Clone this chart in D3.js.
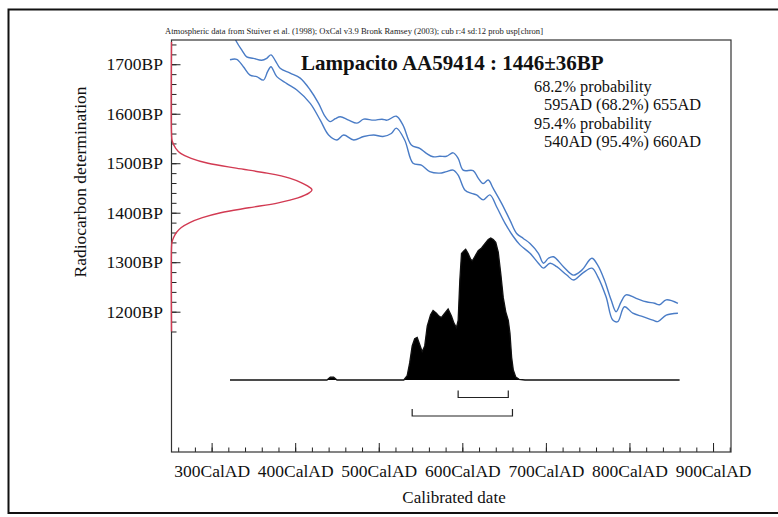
<!DOCTYPE html>
<html>
<head>
<meta charset="utf-8">
<script src="https://cdn.jsdelivr.net/npm/d3@7"></script>
<style>
  body { margin: 0; background: #fff; }
  svg { display: block; }
</style>
</head>
<body>
<div id="chart"></div>
<script>
// ---- data ----
// calibration curve, upper and lower 1 sigma lines (AD, BP)
var curveUpperAD = [322, 330, 336, 342, 350, 360, 366, 371, 376, 382, 394, 406, 418, 428, 436, 442, 448, 454, 464, 474, 482, 494, 504, 510, 521, 529, 539, 549, 557, 565, 573, 581, 589, 595, 601, 613, 619, 625, 631, 637, 647, 657, 665, 673, 681, 691, 697, 703, 709, 721, 733, 743, 755, 762, 770, 778, 784, 790, 796, 808, 820, 830, 836, 844, 858];
var curveUpperBP = [1775, 1745, 1729, 1715, 1712, 1708, 1712, 1719, 1708, 1692, 1682, 1672, 1648, 1621, 1594, 1584, 1590, 1594, 1587, 1581, 1589, 1587, 1589, 1587, 1595, 1577, 1537, 1530, 1520, 1513, 1514, 1514, 1521, 1510, 1486, 1485, 1470, 1459, 1466, 1449, 1419, 1385, 1358, 1348, 1338, 1318, 1298, 1308, 1311, 1291, 1274, 1284, 1308, 1294, 1264, 1224, 1200, 1220, 1234, 1227, 1220, 1217, 1214, 1224, 1217];
var curveLowerAD = [322, 330, 338, 346, 354, 362, 367, 371, 378, 390, 402, 418, 430, 440, 450, 458, 470, 482, 494, 505, 515, 521, 531, 541, 551, 561, 573, 581, 589, 595, 603, 611, 617, 625, 633, 641, 651, 661, 669, 681, 691, 697, 705, 713, 725, 733, 744, 755, 762, 772, 780, 786, 794, 804, 816, 828, 834, 844, 858];
var curveLowerBP = [1709, 1710, 1695, 1678, 1675, 1668, 1685, 1695, 1675, 1661, 1648, 1621, 1587, 1557, 1547, 1557, 1547, 1554, 1557, 1554, 1560, 1571, 1547, 1500, 1496, 1483, 1480, 1483, 1486, 1476, 1446, 1439, 1436, 1426, 1436, 1412, 1379, 1352, 1335, 1318, 1298, 1288, 1298, 1291, 1274, 1264, 1278, 1288, 1271, 1230, 1183, 1180, 1210, 1197, 1190, 1183, 1180, 1193, 1197];

// radiocarbon date 1446±36BP, relative probability along the BP axis
var dateBP = [1745, 1560, 1545, 1530, 1520, 1510, 1500, 1490, 1480, 1470, 1460, 1450, 1446, 1440, 1430, 1420, 1410, 1400, 1390, 1380, 1370, 1360, 1350, 1340, 1330, 1160];
var dateProb = [0, 0, 0.005, 0.03, 0.065, 0.14, 0.26, 0.46, 0.68, 0.84, 0.93, 0.99, 1.0, 0.98, 0.90, 0.76, 0.55, 0.35, 0.22, 0.13, 0.07, 0.035, 0.015, 0.003, 0, 0];

// calibrated distribution (AD, relative probability)
var calAD = [322, 438, 442, 446, 450, 530, 534, 537, 540, 543, 546, 549, 552, 555, 558, 562, 565, 569, 572, 575, 579, 583, 587, 590, 593, 595, 597, 599, 602, 604, 607, 610, 612, 615, 619, 623, 627, 631, 634, 637, 640, 643, 646, 649, 652, 655, 657, 659, 661, 664, 668, 675, 860];
var calProb = [0, 0, 0.02, 0.02, 0, 0, 0.03, 0.12, 0.24, 0.29, 0.30, 0.25, 0.20, 0.24, 0.38, 0.46, 0.49, 0.47, 0.45, 0.44, 0.47, 0.50, 0.45, 0.40, 0.37, 0.42, 0.70, 0.89, 0.91, 0.92, 0.89, 0.85, 0.84, 0.87, 0.91, 0.93, 0.96, 0.99, 1.0, 0.99, 0.97, 0.90, 0.75, 0.58, 0.48, 0.42, 0.33, 0.16, 0.07, 0.02, 0.005, 0, 0];

// ranges
var rangeLabels = ["68.2%", "95.4%"];
var rangeFrom = [595, 540];
var rangeTo = [655, 660];

// ticks
var xMajorTicks = [300, 400, 500, 600, 700, 800, 900];
var xMinorTicks = d3.range(260, 921, 20);
var yMajorTicks = [1200, 1300, 1400, 1500, 1600, 1700];
var yMinorTicks = d3.range(1160, 1741, 20);

var titleText = "Lampacito AA59414 : 1446\u00b136BP";
var creditText = "Atmospheric data from Stuiver et al. (1998); OxCal v3.9 Bronk Ramsey (2003); cub r:4 sd:12 prob usp[chron]";

// ---- layout ----
var svgWidth = 778;
var svgHeight = 517;

var margin = {
  top: 40,
  right: 47,
  bottom: 65,
  left: 171.5
};

var width = svgWidth - margin.left - margin.right;
var height = svgHeight - margin.top - margin.bottom;
var serif = "'Liberation Serif', 'Times New Roman', serif";

var svg = d3.select("#chart")
  .append("svg")
  .attr("width", svgWidth)
  .attr("height", svgHeight)
  .style("background", "#fff");

// outer page frame
svg.append("path")
  .attr("d", "M778,9.5 L8.5,9.5 L8.5,513 L778,513")
  .attr("fill", "none")
  .attr("stroke", "#111")
  .attr("stroke-width", 2);

var chartGroup = svg.append("g")
  .attr("transform", `translate(${margin.left}, ${margin.top})`);

// scales
var xScale = d3.scaleLinear()
  .domain([252, 921.5])
  .range([0, width]);

var yScale = d3.scaleLinear()
  .domain([916.5, 1749])
  .range([height, 0]);

var dateScale = d3.scaleLinear()
  .domain([0, 1])
  .range([0, 140.5]);

var calScale = d3.scaleLinear()
  .domain([0, 1])
  .range([340, 198]);

chartGroup.append("clipPath")
  .attr("id", "plotClip")
  .append("rect")
  .attr("width", width)
  .attr("height", height);

// axes
function styleAxis(g) {
  g.select(".domain").remove();
  g.selectAll("line").attr("stroke", "#222");
  g.selectAll("text")
    .attr("fill", "#111")
    .attr("font-family", serif);
}

chartGroup.append("g")
  .attr("transform", `translate(0, ${height})`)
  .call(d3.axisBottom(xScale).tickValues(xMinorTicks).tickSize(-4.5).tickFormat(""))
  .call(styleAxis);

chartGroup.append("g")
  .attr("transform", `translate(0, ${height})`)
  .call(d3.axisBottom(xScale).tickValues(xMajorTicks).tickSize(-9).tickPadding(12.5)
    .tickFormat(d => d + "CalAD"))
  .call(styleAxis)
  .selectAll("text")
  .attr("font-size", 17.5);

chartGroup.append("g")
  .call(d3.axisLeft(yScale).tickValues(yMinorTicks).tickSize(-5).tickFormat(""))
  .call(styleAxis);

chartGroup.append("g")
  .call(d3.axisLeft(yScale).tickValues(yMajorTicks).tickSize(-9).tickPadding(8.5)
    .tickFormat(d => d + "BP"))
  .call(styleAxis)
  .selectAll("text")
  .attr("font-size", 17.5);

// calibrated distribution
var calData = calAD.map((d, i) => ({ad: d, p: calProb[i]}));

chartGroup.append("path")
  .datum(calData)
  .attr("fill", "#000")
  .attr("d", d3.area()
    .x(d => xScale(d.ad))
    .y0(calScale(0))
    .y1(d => calScale(d.p)));

chartGroup.append("path")
  .datum(calData)
  .attr("fill", "none")
  .attr("stroke", "#111")
  .attr("stroke-width", 1.3)
  .attr("d", d3.line()
    .x(d => xScale(d.ad))
    .y(d => calScale(d.p)));

// calibration curve
var curveLine = d3.line()
  .x(d => xScale(d.ad))
  .y(d => yScale(d.bp))
  .curve(d3.curveCatmullRom.alpha(0.5));

[[curveUpperAD, curveUpperBP], [curveLowerAD, curveLowerBP]].forEach(function(c) {
  var pts = c[0].map((d, i) => ({ad: d, bp: c[1][i]}));
  chartGroup.append("path")
    .datum(pts)
    .attr("clip-path", "url(#plotClip)")
    .attr("fill", "none")
    .attr("stroke", "#4a7cc6")
    .attr("stroke-width", 1.4)
    .attr("d", curveLine);
});

// range brackets
var bracketY = [357.5, 376];
rangeFrom.forEach(function(from, i) {
  var x0 = xScale(from), x1 = xScale(rangeTo[i]), y = bracketY[i];
  chartGroup.append("path")
    .attr("d", `M${x0},${y - 7} L${x0},${y} L${x1},${y} L${x1},${y - 7}`)
    .attr("fill", "none")
    .attr("stroke", "#222")
    .attr("stroke-width", 1.2);
});

// plot frame
chartGroup.append("rect")
  .attr("width", width)
  .attr("height", height)
  .attr("fill", "none")
  .attr("stroke", "#333")
  .attr("stroke-width", 1.2);

// radiocarbon date distribution on the y axis (drawn over the frame)
var dateData = dateBP.map((d, i) => ({bp: d, p: dateProb[i]}));

chartGroup.append("path")
  .datum(dateData)
  .attr("fill", "none")
  .attr("stroke", "#d23a52")
  .attr("stroke-width", 1.4)
  .attr("d", d3.line()
    .x(d => dateScale(d.p))
    .y(d => yScale(d.bp))
    .curve(d3.curveCatmullRom.alpha(0.5)));

// texts
svg.append("text")
  .attr("x", 165)
  .attr("y", 34)
  .attr("font-family", serif)
  .attr("font-size", 7.5)
  .attr("textLength", 378)
  .attr("lengthAdjust", "spacingAndGlyphs")
  .attr("fill", "#222")
  .text(creditText);

svg.append("text")
  .attr("x", 301)
  .attr("y", 70)
  .attr("font-family", serif)
  .attr("font-weight", "bold")
  .attr("font-size", 21)
  .attr("fill", "#111")
  .text(titleText);

var infoLines = [];
rangeLabels.forEach(function(lab, i) {
  infoLines.push({x: 534, t: lab + " probability"});
  infoLines.push({x: 544, t: rangeFrom[i] + "AD (" + lab + ") " + rangeTo[i] + "AD"});
});
var infoY = [91.7, 110, 129, 147];

svg.selectAll(".info")
  .data(infoLines)
  .enter()
  .append("text")
  .attr("class", "info")
  .attr("x", d => d.x)
  .attr("y", (d, i) => infoY[i])
  .attr("font-family", serif)
  .attr("font-size", 16.3)
  .attr("fill", "#111")
  .text(d => d.t);

svg.append("text")
  .attr("transform", "translate(86, 182) rotate(-90)")
  .attr("text-anchor", "middle")
  .attr("font-family", serif)
  .attr("font-size", 17.5)
  .attr("fill", "#111")
  .text("Radiocarbon determination");

svg.append("text")
  .attr("x", 454)
  .attr("y", 503)
  .attr("text-anchor", "middle")
  .attr("font-family", serif)
  .attr("font-size", 17)
  .attr("fill", "#111")
  .text("Calibrated date");
</script>
</body>
</html>
